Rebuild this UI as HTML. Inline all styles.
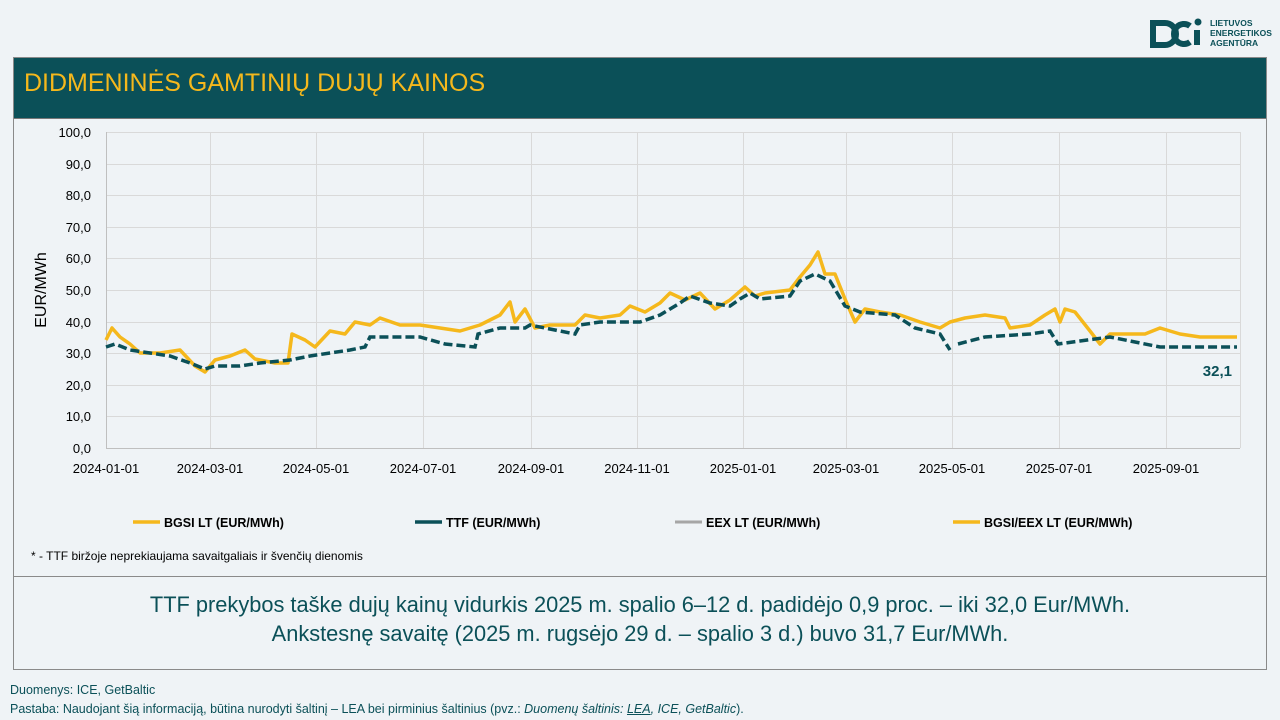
<!DOCTYPE html>
<html><head><meta charset="utf-8"><style>
body{margin:0;width:1280px;height:720px;background:#eff3f6;font-family:"Liberation Sans",sans-serif;position:relative;overflow:hidden}
.frame{position:absolute;left:13px;top:57px;width:1254px;height:613px;border:1px solid #8a8a8a;box-sizing:border-box;background:#eff3f6}
.title{position:absolute;left:0;top:0;right:0;height:60px;background:#0b5058;color:#f5b81c;font-size:25px;line-height:50px;padding-left:10px;border-bottom:1px solid #777}
.sep{position:absolute;left:0;right:0;top:518px;border-top:1px solid #8a8a8a}
.summary{position:absolute;left:0;right:0;top:532px;text-align:center;color:#0b5058;font-size:21.8px;line-height:29px}
.foot{position:absolute;left:10px;font-size:12.5px;color:#0b5058}
</style></head><body>
<svg style="position:absolute;left:1150px;top:17px" width="60" height="34" viewBox="0 0 60 34">
<path d="M3 6 h12 a11 11 0 0 1 0 22 h-12 z" fill="none" stroke="#0b5058" stroke-width="6"/>
<path d="M40 9 a10 10 0 1 0 0 16" fill="none" stroke="#0b5058" stroke-width="6"/>
<rect x="44" y="13" width="6" height="15" fill="#0b5058"/><circle cx="48" cy="5" r="3.5" fill="#0b5058"/></svg>
<div style="position:absolute;left:1210px;top:18px;font-size:8.5px;font-weight:bold;color:#0b5058;line-height:10px">LIETUVOS<br>ENERGETIKOS<br>AGENTŪRA</div>
<div class="frame">
<div class="title">DIDMENINĖS GAMTINIŲ DUJŲ KAINOS</div>
<div class="sep"></div>
<div class="summary">TTF prekybos taške dujų kainų vidurkis 2025 m. spalio 6–12 d. padidėjo 0,9 proc. – iki 32,0 Eur/MWh.<br>Ankstesnę savaitę (2025 m. rugsėjo 29 d. – spalio 3 d.) buvo 31,7 Eur/MWh.</div>
</div>
<svg style="position:absolute;left:0;top:0" width="1280" height="720" font-family="Liberation Sans, sans-serif">
<g stroke="#d9d9d9" stroke-width="1">
<line x1="106" x2="1240" y1="132.5" y2="132.5"/><line x1="106" x2="1240" y1="164.5" y2="164.5"/><line x1="106" x2="1240" y1="195.5" y2="195.5"/><line x1="106" x2="1240" y1="227.5" y2="227.5"/><line x1="106" x2="1240" y1="258.5" y2="258.5"/><line x1="106" x2="1240" y1="290.5" y2="290.5"/><line x1="106" x2="1240" y1="322.5" y2="322.5"/><line x1="106" x2="1240" y1="353.5" y2="353.5"/><line x1="106" x2="1240" y1="385.5" y2="385.5"/><line x1="106" x2="1240" y1="416.5" y2="416.5"/>
<line x1="210.5" x2="210.5" y1="132" y2="448"/><line x1="316.5" x2="316.5" y1="132" y2="448"/><line x1="423.5" x2="423.5" y1="132" y2="448"/><line x1="531.5" x2="531.5" y1="132" y2="448"/><line x1="637.5" x2="637.5" y1="132" y2="448"/><line x1="743.5" x2="743.5" y1="132" y2="448"/><line x1="846.5" x2="846.5" y1="132" y2="448"/><line x1="952.5" x2="952.5" y1="132" y2="448"/><line x1="1059.5" x2="1059.5" y1="132" y2="448"/><line x1="1166.5" x2="1166.5" y1="132" y2="448"/><line x1="1240.5" x2="1240.5" y1="132" y2="448"/>
</g>
<line x1="106" x2="1240" y1="448.5" y2="448.5" stroke="#bfbfbf"/><line x1="106.5" x2="106.5" y1="132" y2="448" stroke="#bfbfbf"/>
<g font-size="13" text-anchor="end" fill="#000">
<text x="91" y="137">100,0</text><text x="91" y="169">90,0</text><text x="91" y="200">80,0</text><text x="91" y="232">70,0</text><text x="91" y="263">60,0</text><text x="91" y="295">50,0</text><text x="91" y="327">40,0</text><text x="91" y="358">30,0</text><text x="91" y="390">20,0</text><text x="91" y="421">10,0</text><text x="91" y="453">0,0</text></g>
<g font-size="13" text-anchor="middle" fill="#000">
<text x="106" y="473">2024-01-01</text><text x="210" y="473">2024-03-01</text><text x="316" y="473">2024-05-01</text><text x="423" y="473">2024-07-01</text><text x="531" y="473">2024-09-01</text><text x="637" y="473">2024-11-01</text><text x="743" y="473">2025-01-01</text><text x="846" y="473">2025-03-01</text><text x="952" y="473">2025-05-01</text><text x="1059" y="473">2025-07-01</text><text x="1166" y="473">2025-09-01</text></g>
<text transform="translate(46,290) rotate(-90)" font-size="16" text-anchor="middle">EUR/MWh</text>
<polyline fill="none" stroke="#f5b81c" stroke-width="3.5" stroke-linejoin="round" points="106,340 112,328 120,337 130,344 140,353 160,353 180,350 195,366 205,372 215,360 230,356 245,350 255,359 275,363 288,363 292,334 305,340 315,347 330,331 345,334 355,322 370,325 380,318 400,325 420,325 440,328 460,331 480,325 500,315 510,302 515,322 525,309 535,328 550,325 575,325 585,315 600,318 620,315 630,306 645,312 660,303 670,293 685,300 700,293 715,309 730,300 745,287 755,296 765,293 790,290 800,277 810,265 818,252 825,274 835,274 845,299 855,322 865,309 880,312 900,315 920,322 940,328 950,322 965,318 985,315 1005,318 1010,328 1030,325 1045,315 1055,309 1060,322 1065,309 1075,312 1090,331 1100,344 1110,334 1130,334 1145,334 1160,328 1180,334 1200,337 1220,337 1237,337"/>
<polyline fill="none" stroke="#0b5058" stroke-width="3.5" stroke-dasharray="9,4" points="106,347 115,344 130,350 150,353 170,356 190,363 205,369 215,366 240,366 260,363 290,360 310,356 330,353 350,350 365,347 370,337 385,337 420,337 445,344 475,347 478,334 500,328 525,328 530,325 545,328 575,334 580,325 600,322 640,322 660,315 680,303 690,296 710,303 730,306 740,299 750,293 760,299 790,296 800,281 815,274 830,281 845,306 860,312 895,315 915,328 940,334 950,350"/>
<polyline fill="none" stroke="#0b5058" stroke-width="3.5" stroke-dasharray="9,4" points="958,344 985,337 1030,334 1050,331 1058,344 1080,341 1110,337 1130,341 1160,347 1200,347 1237,347"/>
<text x="1232" y="376" font-size="15" font-weight="bold" fill="#0b5058" text-anchor="end">32,1</text>
<g font-size="12.5" font-weight="bold" fill="#000">
<line x1="133" x2="160" y1="522" y2="522" stroke="#f5b81c" stroke-width="3.5"/><text x="164" y="527">BGSI LT (EUR/MWh)</text>
<line x1="415" x2="442" y1="522" y2="522" stroke="#0b5058" stroke-width="3.5"/><text x="446" y="527">TTF (EUR/MWh)</text>
<line x1="675" x2="702" y1="522" y2="522" stroke="#a6a6a6" stroke-width="3"/><text x="706" y="527">EEX LT (EUR/MWh)</text>
<line x1="953" x2="980" y1="522" y2="522" stroke="#f5b81c" stroke-width="3.5"/><text x="984" y="527">BGSI/EEX LT (EUR/MWh)</text>
</g>
<text x="31" y="560" font-size="12">* - TTF biržoje neprekiaujama savaitgaliais ir švenčių dienomis</text>
</svg>
<div class="foot" style="top:683px">Duomenys: ICE, GetBaltic</div>
<div class="foot" style="top:702px">Pastaba: Naudojant šią informaciją, būtina nurodyti šaltinį – LEA bei pirminius šaltinius (pvz.: <i>Duomenų šaltinis: <u>LEA</u>, ICE, GetBaltic</i>).</div>
</body></html>
